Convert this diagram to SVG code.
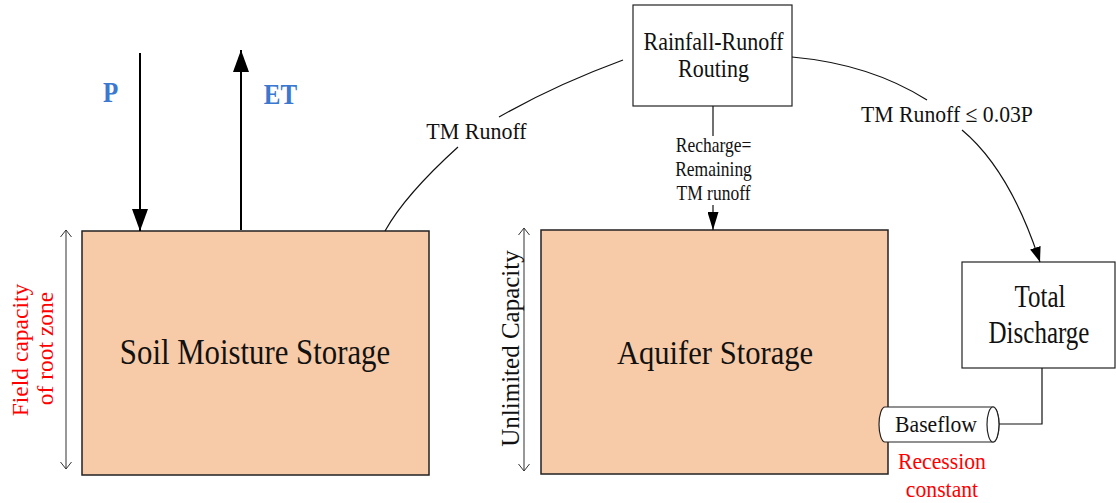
<svg xmlns="http://www.w3.org/2000/svg" width="1116" height="503" viewBox="0 0 1116 503">
  <defs>
    <marker id="bigtri" markerWidth="22" markerHeight="16" refX="22" refY="8" markerUnits="userSpaceOnUse" orient="auto">
      <path d="M0,0 L22,8 L0,16 z" fill="#000"/>
    </marker>
    <marker id="midtri" markerWidth="18" markerHeight="11" refX="18" refY="5.5" markerUnits="userSpaceOnUse" orient="auto">
      <path d="M0,0 L18,5.5 L0,11 z" fill="#000"/>
    </marker>
    <marker id="curvetri" markerWidth="15" markerHeight="11" refX="15" refY="5.5" markerUnits="userSpaceOnUse" orient="auto">
      <path d="M0,0 L15,5.5 L0,11 z" fill="#000"/>
    </marker>
    <marker id="open" markerWidth="8" markerHeight="12" refX="7.5" refY="6" markerUnits="userSpaceOnUse" orient="auto-start-reverse">
      <path d="M0.5,0.5 L7.5,6 L0.5,11.5" fill="none" stroke="#333" stroke-width="1"/>
    </marker>
  </defs>
  <style>
    .store { fill: #F8CBA8; stroke: #222; stroke-width: 1.5; }
    .box { fill: #fff; stroke: #222; stroke-width: 1.2; }
    .serif { font-family: "Liberation Serif", "Times New Roman", serif; fill: #111; text-anchor: middle; }
    .red { fill: #FF0000; }
    .blue { font-family: "Liberation Serif", "Times New Roman", serif; font-weight: bold; fill: #3B78CF; font-size: 25px; text-anchor: middle; }
    .line { fill: none; stroke: #111; stroke-width: 1.2; }
    .flux { fill: none; stroke: #000; stroke-width: 2; }
    .dim { fill: none; stroke: #333; stroke-width: 1; }
  </style>

  <!-- storage compartments -->
  <g id="soil-storage">
    <rect class="store" x="82" y="231" width="347" height="244"/>
    <text class="serif" font-size="30.8" transform="translate(255,364) scale(1,1.13)">Soil Moisture Storage</text>
  </g>
  <g id="aquifer-storage">
    <rect class="store" x="541" y="230" width="347" height="244"/>
    <text class="serif" font-size="30.6" transform="translate(715,364) scale(1,1.13)">Aquifer Storage</text>
  </g>
  <g id="routing">
    <rect class="box" x="633" y="5" width="159" height="101"/>
    <text class="serif" font-size="22" transform="translate(713.5,50) scale(1,1.15)">Rainfall-Runoff</text>
    <text class="serif" font-size="22" transform="translate(713.5,77) scale(1,1.15)">Routing</text>
  </g>
  <g id="total-discharge">
    <rect class="box" x="962" y="262" width="153" height="106"/>
    <text class="serif" font-size="25" transform="translate(1040,306.5) scale(1,1.3)">Total</text>
    <text class="serif" font-size="25" transform="translate(1039,343) scale(1,1.3)">Discharge</text>
  </g>

  <!-- connectors -->
  <g id="connectors">
    <!-- precipitation and evapotranspiration -->
    <line class="flux" x1="140" y1="53" x2="140" y2="231" marker-end="url(#bigtri)"/>
    <line class="flux" x1="241" y1="230" x2="241" y2="50" marker-end="url(#bigtri)"/>
    <!-- soil to routing -->
    <path class="line" d="M385,231 Q405,195 458,147"/>
    <path class="line" d="M499,117 Q555,85 623,60"/>
    <!-- routing to discharge -->
    <path class="line" d="M792,57 Q870,64 927,100"/>
    <path class="line" d="M962,130 Q1010,170 1040,262" marker-end="url(#curvetri)"/>
    <!-- recharge -->
    <line class="line" x1="713" y1="106" x2="713" y2="136"/>
    <line class="line" x1="713" y1="205" x2="713" y2="230" marker-end="url(#midtri)"/>
    <!-- baseflow to discharge -->
    <polyline class="line" points="997,424 1042,424 1042,368"/>
    <!-- capacity dimension arrows -->
    <line class="dim" x1="66" y1="230" x2="66" y2="469" marker-start="url(#open)" marker-end="url(#open)"/>
    <line class="dim" x1="524" y1="228" x2="524" y2="471" marker-start="url(#open)" marker-end="url(#open)"/>
  </g>

  <!-- baseflow pipe -->
  <g id="baseflow">
    <path d="M885,407 L993,407 A6,17.5 0 0 1 993,442 L885,442 A6,17.5 0 0 1 885,407 z" fill="#fff" stroke="#222" stroke-width="1.2"/>
    <ellipse cx="993" cy="424.5" rx="6" ry="17.5" fill="#fff" stroke="#222" stroke-width="1.2"/>
    <text class="serif" font-size="21.7" transform="translate(936,431.7) scale(1,1.09)">Baseflow</text>
    <text class="serif red" font-size="21.7" transform="translate(942,469) scale(1,1.05)">Recession</text>
    <text class="serif red" font-size="21.7" transform="translate(942,497) scale(1,1.05)">constant</text>
  </g>

  <!-- labels -->
  <g id="labels">
    <text class="blue" transform="translate(110.5,101.7) scale(1,1.17)">P</text>
    <text class="blue" transform="translate(280.5,104) scale(1,1.17)">ET</text>
    <text class="serif" font-size="22" transform="translate(476.5,139.3) scale(1,1.05)">TM Runoff</text>
    <text class="serif" font-size="21.7" transform="translate(947,122.3) scale(1,1.09)">TM Runoff ≤ 0.03P</text>
    <text class="serif" font-size="17.5" transform="translate(713.5,151.7) scale(1,1.15)">Recharge=</text>
    <text class="serif" font-size="17.5" transform="translate(713.5,176) scale(1,1.15)">Remaining</text>
    <text class="serif" font-size="17.5" transform="translate(713.5,200) scale(1,1.15)">TM runoff</text>
    <text class="serif red" font-size="23.5" transform="translate(28,350) rotate(-90)">Field capacity</text>
    <text class="serif red" font-size="23.5" transform="translate(53,348.5) rotate(-90)">of root zone</text>
    <text class="serif" font-size="25" transform="translate(519,348.5) rotate(-90)">Unlimited Capacity</text>
  </g>
</svg>
